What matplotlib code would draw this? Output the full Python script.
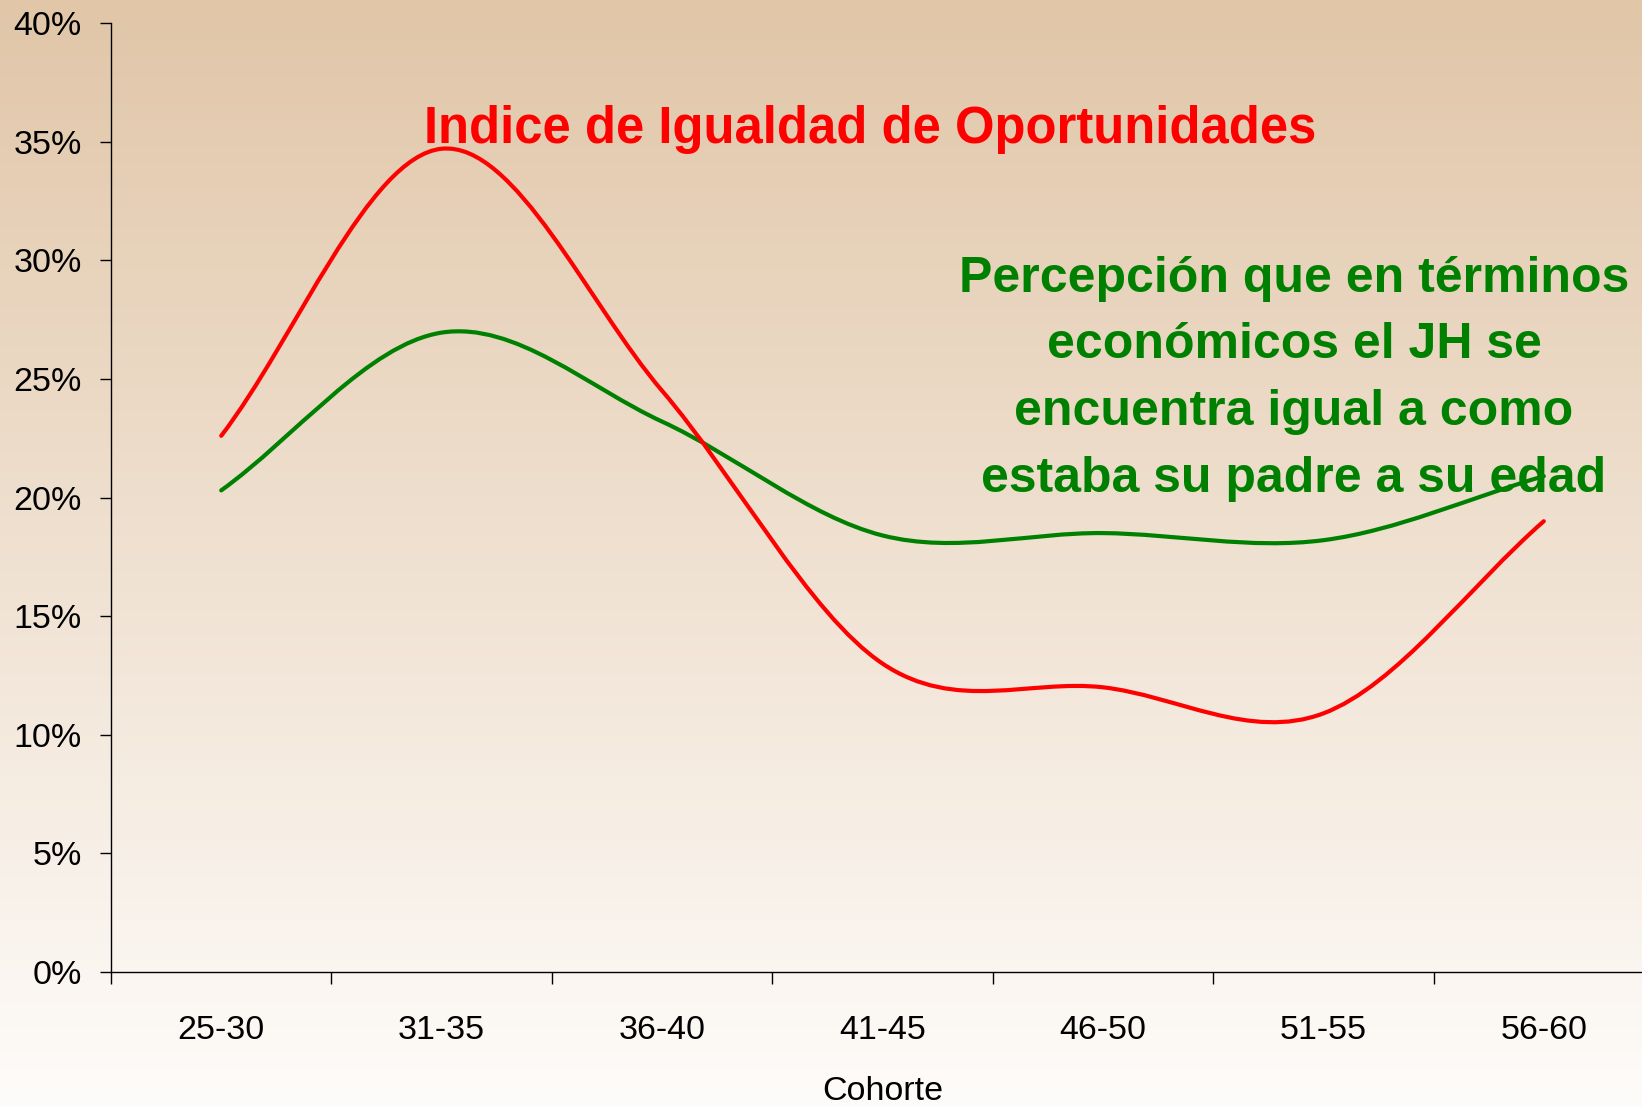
import numpy as np
import matplotlib
matplotlib.use("Agg")
import matplotlib.pyplot as plt
from matplotlib.path import Path
from matplotlib.patches import PathPatch
from matplotlib.ticker import FuncFormatter

# ---------------- data ----------------
categories = ["25-30", "31-35", "36-40", "41-45", "46-50", "51-55", "56-60"]
indice_igualdad = [22.6, 34.7, 24.5, 13.0, 12.0, 10.9, 19.0]       # %
percepcion_igual = [20.3, 26.95, 23.2, 18.4, 18.5, 18.2, 20.9]     # %
y_ticks = [0, 5, 10, 15, 20, 25, 30, 35, 40]
title_red = "Indice de Igualdad de Oportunidades"
green_lines = ["Percepción que en términos",
               "económicos el JH se",
               "encuentra igual a como",
               "estaba su padre a su edad"]
x_label = "Cohorte"

plt.rcParams['font.family'] = ['Liberation Sans', 'DejaVu Sans']

W, H = 1642, 1107
fig = plt.figure(figsize=(W / 100, H / 100), dpi=100)

# background gradient
bg = fig.add_axes([0, 0, 1, 1], zorder=0)
top = np.array([225, 198, 168]) / 255
bot = np.array([254, 252, 250]) / 255
t = np.linspace(0, 1, 256)[:, None]
grad = (top[None, :] * (1 - t) + bot[None, :] * t)[:, None, :]
bg.imshow(grad, aspect='auto', extent=[0, 1, 0, 1], origin='upper')
bg.set_axis_off()

ax = fig.add_axes([111 / W, (H - 972) / H, (1654 - 111) / W, (972 - 23) / H], zorder=1)
ax.set_facecolor('none')


def smooth_path(xs, ys):
    n = len(xs)

    def tangent(i):
        if i == 0:
            return xs[1] - xs[0], ys[1] - ys[0]
        if i == n - 1:
            return xs[-1] - xs[-2], ys[-1] - ys[-2]
        return (xs[i + 1] - xs[i - 1]) / 2, (ys[i + 1] - ys[i - 1]) / 2

    verts = [(xs[0], ys[0])]
    codes = [Path.MOVETO]
    for i in range(n - 1):
        a = tangent(i)
        b = tangent(i + 1)
        verts += [(xs[i] + a[0] / 3, ys[i] + a[1] / 3),
                  (xs[i + 1] - b[0] / 3, ys[i + 1] - b[1] / 3),
                  (xs[i + 1], ys[i + 1])]
        codes += [Path.CURVE4] * 3
    return Path(verts, codes)


x = np.arange(len(categories), dtype=float)
for vals, col in [(percepcion_igual, '#008000'), (indice_igualdad, '#FF0000')]:
    p = PathPatch(smooth_path(list(x), list(vals)), facecolor='none', edgecolor=col,
                  lw=3.0, capstyle='round', joinstyle='round')
    ax.add_patch(p)

ax.set_xlim(-0.5, 6.5)
ax.set_ylim(0, 40)

for s in ['top', 'right']:
    ax.spines[s].set_visible(False)
for s in ['left', 'bottom']:
    ax.spines[s].set_linewidth(1.0)
    ax.spines[s].set_color('black')

ax.set_xticks(np.arange(-0.5, 7.0, 1.0))
ax.set_xticklabels([])
ax.set_xticks(x, minor=True)
ax.set_xticklabels(categories, minor=True)
ax.tick_params(axis='x', which='major', length=8.6, width=1.0, direction='out', color='black')
ax.tick_params(axis='x', which='minor', length=0, pad=31, labelsize=24.5)

ax.set_yticks(y_ticks)
ax.yaxis.set_major_formatter(FuncFormatter(lambda v, pos: f"{v:.0f}%"))
ax.tick_params(axis='y', length=8, width=1.0, direction='out', pad=13, labelsize=24.5)

ax.set_xlabel(x_label, fontsize=24.5)
ax.xaxis.set_label_coords(0.5, (972 - 1091) / (972 - 23))
ax.xaxis.label.set_va('center')

fig.text(870 / W, 1 - 143 / H, title_red, color='#FF0000', fontsize=36.5,
         fontweight='bold', ha='center', va='baseline')

baselines = [292, 358, 425, 492]
for line, yb in zip(green_lines, baselines):
    fig.text(1294 / W, 1 - yb / H, line, color='#008000', fontsize=36,
             fontweight='bold', ha='center', va='baseline')

fig.savefig('out.png', dpi=100)
